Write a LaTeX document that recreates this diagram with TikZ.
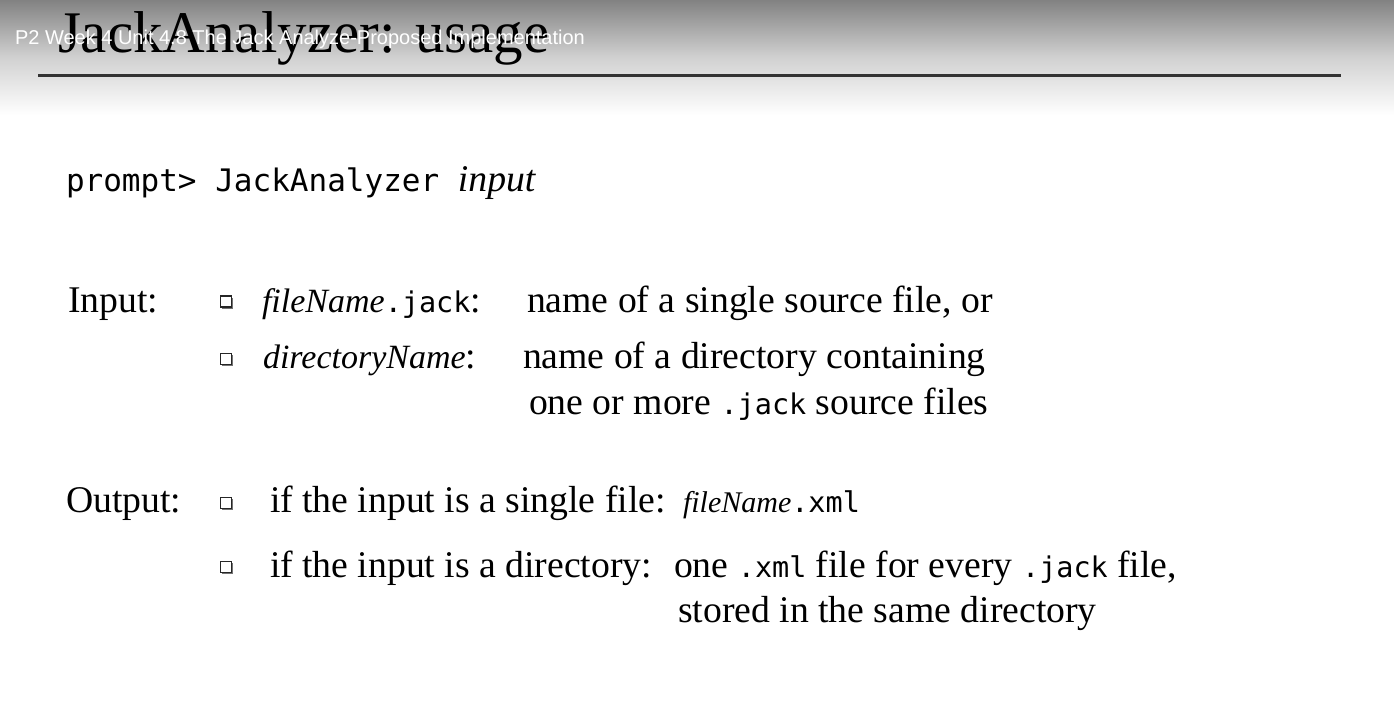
\documentclass[tikz,border=0pt]{standalone}
\usepackage{fontspec}
\setmainfont{Liberation Serif}
\setmonofont{DejaVu Sans Mono}
\newfontfamily\overlayfont{Liberation Sans}
\usetikzlibrary{shadows}
\definecolor{topgray}{gray}{0.51}
\definecolor{midgray}{gray}{0.82}
\definecolor{rulegray}{gray}{0.2}
\tikzset{
  txt/.style={anchor=base west, inner sep=0pt, outer sep=0pt, text=black},
  body/.style={txt, font=\fontsize{37.7}{44}\selectfont},
  bulletbox/.style={draw=black!85, line width=1.4pt, fill=white, minimum size=11pt,
     inner sep=0pt, drop shadow={shadow xshift=1.8pt, shadow yshift=-1.8pt, opacity=0.55, fill=black}},
}
\newcommand{\mono}[1]{{\fontsize{28.5}{34}\ttfamily #1}}
\newcommand{\itl}[1]{{\fontsize{34}{40}\selectfont\itshape #1}}
\begin{document}
\begin{tikzpicture}[x=1pt, y=-1pt]
\useasboundingbox (0,0) rectangle (1394,716);
\clip (0,0) rectangle (1394,716);
\fill[white] (0,0) rectangle (1394,716);
\shade[top color=topgray, bottom color=white, middle color=midgray] (0,0) rectangle (1394,115);
% title
\node[txt, font=\fontsize{59}{66}\selectfont] (title) at (58,52) {JackAnalyzer: usage};
\coordinate (rl) at (38,75.5);
\coordinate (rr) at (1341,75.5);
\draw[rulegray, line width=3pt] (rl) -- (rr);
\node[txt, text=white, font=\overlayfont\fontsize{20}{24}\selectfont] (overlay) at (15,44.5) {P2 Week 4 Unit 4.8 The Jack Analyze-Proposed Implementation};
% prompt line
\node[txt, font=\fontsize{31}{36}\ttfamily] (prompt) at (66,191) {prompt> JackAnalyzer {\rmfamily\fontsize{37.7}{44}\selectfont\itshape input}};
% Input
\node[body] (inlbl) at (68,312) {Input:};
\node[bulletbox] (ib1) at (226,301.5) {};
\node[body] (ik1) at (262,312) {\itl{fileName}\mono{.jack}:};
\node[body] (id1) at (527,312) {name of a single source file, or};
\node[bulletbox] (ib2) at (226,359) {};
\node[body] (ik2) at (263,368) {\itl{directoryName}:};
\node[body] (id2) at (523,368) {name of a directory containing};
\node[body] (id3) at (529,414) {one or more \mono{.jack} source files};
% Output
\node[body] (outlbl) at (66,512) {Output:};
\node[bulletbox] (ob1) at (226,503) {};
\node[body] (oi1) at (270,512) {if the input is a single file:};
\node[body] (of1) at (683,512) {{\fontsize{30}{36}\selectfont\itshape fileName}\mono{.xml}};
\node[bulletbox] (ob2) at (226,567) {};
\node[body] (oi2) at (270,577) {if the input is a directory:};
\node[body] (od2) at (674,577) {one \mono{.xml} file for every \mono{.jack} file,};
\node[body] (od3) at (678,622) {stored in the same directory};
\end{tikzpicture}
\end{document}
